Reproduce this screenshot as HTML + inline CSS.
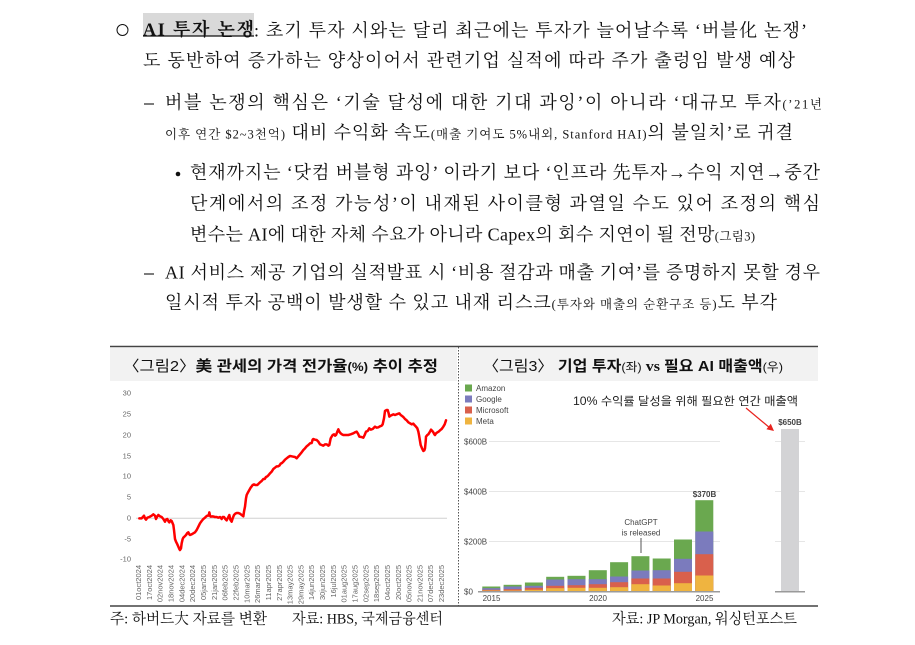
<!DOCTYPE html>
<html lang="ko">
<head>
<meta charset="utf-8">
<style>
  html,body{margin:0;padding:0;background:#fff;}
  svg{display:block;}
  .b{font-family:"Liberation Serif","Noto Serif CJK SC",serif;font-size:18px;fill:#111;}
  .s{font-size:12.5px;}
  .hd{font-family:"Liberation Sans","Noto Sans CJK KR",sans-serif;font-size:15px;fill:#111;}
  .ft{font-family:"Liberation Serif","Noto Serif CJK SC",serif;font-size:15px;fill:#111;}
  .ax{font-family:"Liberation Sans",sans-serif;font-size:7.5px;fill:#666;}
  .rc{font-family:"Liberation Sans",sans-serif;font-size:8px;fill:#444;}
</style>
</head>
<body>
<svg width="915" height="645" viewBox="0 0 915 645" xmlns="http://www.w3.org/2000/svg">
  <rect x="0" y="0" width="915" height="645" fill="#fff"/>

  <!-- ===== Body text ===== -->
  <circle cx="122.5" cy="30" r="5.5" fill="none" stroke="#111" stroke-width="1"/>
  <rect x="143" y="13" width="111" height="23" fill="#d9d9d9"/>
  <line x1="143" y1="36" x2="254" y2="36" stroke="#111" stroke-width="1.3"/>
  <text class="b" x="143" y="35.5" textLength="111" lengthAdjust="spacing" font-weight="bold">AI 투자 논쟁</text>
  <text class="b" x="254" y="36.5" textLength="553" lengthAdjust="spacing">: 초기 투자 시와는 달리 최근에는 투자가 늘어날수록 ‘버블化 논쟁’</text>
  <text class="b" x="143" y="66.5" textLength="652" lengthAdjust="spacing">도 동반하여 증가하는 양상이어서 관련기업 실적에 따라 주가 출렁임 발생 예상</text>

  <line x1="144" y1="104" x2="154" y2="104" stroke="#111" stroke-width="1.1"/>
  <text class="b" x="165" y="108.5" textLength="657" lengthAdjust="spacing">버블 논쟁의 핵심은 ‘기술 달성에 대한 기대 과잉’이 아니라 ‘대규모 투자<tspan class="s">(’21년</tspan></text>
  <text class="b" x="165" y="138.5" textLength="628" lengthAdjust="spacing"><tspan class="s">이후 연간 $2~3천억)</tspan> 대비 수익화 속도<tspan class="s">(매출 기여도 5%내외, Stanford HAI)</tspan>의 불일치’로 귀결</text>

  <circle cx="178" cy="174" r="2.3" fill="#111"/>
  <text class="b" x="190" y="178.5" textLength="630" lengthAdjust="spacing">현재까지는 ‘닷컴 버블형 과잉’ 이라기 보다 ‘인프라 先투자→수익 지연→중간</text>
  <text class="b" x="190" y="209.5" textLength="630" lengthAdjust="spacing">단계에서의 조정 가능성’이 내재된 사이클형 과열일 수도 있어 조정의 핵심</text>
  <text class="b" x="190" y="240.5" textLength="565" lengthAdjust="spacing">변수는 AI에 대한 자체 수요가 아니라 Capex의 회수 지연이 될 전망<tspan class="s">(그림3)</tspan></text>

  <line x1="144" y1="274" x2="154" y2="274" stroke="#111" stroke-width="1.1"/>
  <text class="b" x="165" y="278.5" textLength="655" lengthAdjust="spacing">AI 서비스 제공 기업의 실적발표 시 ‘비용 절감과 매출 기여’를 증명하지 못할 경우</text>
  <text class="b" x="165" y="308.5" textLength="612" lengthAdjust="spacing">일시적 투자 공백이 발생할 수 있고 내재 리스크<tspan class="s">(투자와 매출의 순환구조 등)</tspan>도 부각</text>

  <!-- ===== Chart frame ===== -->
  <rect x="110" y="348" width="347" height="33" fill="#f2f2f2"/>
  <rect x="460" y="348" width="358" height="33" fill="#f2f2f2"/>
  <line x1="110" y1="346.5" x2="818" y2="346.5" stroke="#444" stroke-width="1.5"/>
  <line x1="110" y1="606" x2="818" y2="606" stroke="#444" stroke-width="1.5"/>
  <line x1="458.5" y1="347" x2="458.5" y2="606" stroke="#555" stroke-width="1" stroke-dasharray="1.5,1.5"/>

  <!-- headers -->
  <text class="hd" x="123" y="371" textLength="315" lengthAdjust="spacingAndGlyphs"><tspan font-weight="normal">〈그림2〉</tspan><tspan font-weight="bold">美 관세의 가격 전가율</tspan><tspan font-weight="bold" font-size="12">(%)</tspan><tspan font-weight="bold"> 추이 추정</tspan></text>
  <text class="hd" x="483" y="371" textLength="300" lengthAdjust="spacingAndGlyphs"><tspan font-weight="normal">〈그림3〉 </tspan><tspan font-weight="bold">기업 투자</tspan><tspan font-size="12">(좌)</tspan><tspan font-weight="bold" font-family="Liberation Serif, serif"> vs </tspan><tspan font-weight="bold">필요 AI 매출액</tspan><tspan font-size="12">(우)</tspan></text>

  <!-- ===== Left chart ===== -->
  <g class="ax" text-anchor="end">
    <text x="131" y="395.5">30</text>
    <text x="131" y="416.5">25</text>
    <text x="131" y="437.5">20</text>
    <text x="131" y="458.5">15</text>
    <text x="131" y="478.5">10</text>
    <text x="131" y="499.5">5</text>
    <text x="131" y="520.5">0</text>
    <text x="131" y="541.5">-5</text>
    <text x="131" y="561.5">-10</text>
  </g>
  <line x1="136" y1="518.3" x2="447" y2="518.3" stroke="#d0d0d0" stroke-width="1"/>
  <g transform="translate(130,395) scale(0.333333)">
    <polyline fill="none" stroke="#ff0000" stroke-width="7.5" stroke-linejoin="round" stroke-linecap="round"
      points="28,370 35,370 42,362 45,370 48,374 52,368 58,366 65,362 70,358 75,362 78,372 82,364 85,360 90,364 95,366 100,372 105,380 108,374 112,372 116,380 118,382 122,376 125,378 130,390 132,405 135,432 138,440 142,448 145,455 148,462 150,465 153,460 155,445 158,432 160,428 164,424 168,420 172,414 175,412 178,418 180,420 185,418 190,415 195,412 200,405 205,395 210,385 215,378 220,372 225,368 228,365 232,362 236,362 238,352 240,362 242,365 248,364 255,366 260,366 265,368 270,366 275,372 278,366 282,366 286,372 290,376 294,368 298,360 301,374 305,380 308,370 312,360 316,356 320,354 325,354 330,356 335,360 340,364 342,350 345,335 348,310 350,300 354,292 358,285 362,278 365,274 368,270 372,268 376,270 382,270 386,266 390,262 395,258 400,252 404,252 408,246 412,244 416,240 420,235 425,230 430,222 435,218 440,214 444,214 448,212 452,206 456,204 460,200 465,194 470,190 475,186 480,183 485,184 490,185 495,186 500,190 505,184 510,178 515,172 520,165 525,160 530,154 535,150 540,145 545,144 548,134 550,132 555,134 560,135 565,140 570,148 575,150 580,152 585,148 590,148 595,152 598,150 602,130 605,125 608,120 612,118 615,122 618,120 622,110 625,103 628,110 632,115 636,118 640,120 648,120 655,120 662,118 670,115 675,112 680,110 684,116 688,125 694,126 700,128 704,120 708,110 713,108 718,100 722,104 728,102 732,98 735,95 740,98 745,97 750,94 755,92 758,88 762,70 765,48 770,45 773,45 776,55 778,65 782,62 786,60 790,58 795,60 800,58 805,56 808,55 812,60 815,62 820,66 825,72 830,76 835,82 840,85 845,88 850,86 855,92 858,95 862,100 865,110 867,120 870,138 872,150 876,160 880,168 883,166 885,160 887,140 888,125 892,120 895,118 900,110 903,104 907,108 910,112 913,118 915,120 918,115 922,112 926,110 930,106 935,102 940,95 944,88 948,76"/>
  </g>
  <g class="ax" text-anchor="end" font-size="7.5">
    <text transform="translate(141.1,565) rotate(-90)">01oct2024</text>
    <text transform="translate(151.9,565) rotate(-90)">17oct2024</text>
    <text transform="translate(162.7,565) rotate(-90)">02nov2024</text>
    <text transform="translate(173.6,565) rotate(-90)">18nov2024</text>
    <text transform="translate(184.4,565) rotate(-90)">04dec2024</text>
    <text transform="translate(195.2,565) rotate(-90)">20dec2024</text>
    <text transform="translate(206.0,565) rotate(-90)">05jan2025</text>
    <text transform="translate(216.8,565) rotate(-90)">21jan2025</text>
    <text transform="translate(227.7,565) rotate(-90)">06feb2025</text>
    <text transform="translate(238.5,565) rotate(-90)">22feb2025</text>
    <text transform="translate(249.3,565) rotate(-90)">10mar2025</text>
    <text transform="translate(260.1,565) rotate(-90)">26mar2025</text>
    <text transform="translate(270.9,565) rotate(-90)">11apr2025</text>
    <text transform="translate(281.8,565) rotate(-90)">27apr2025</text>
    <text transform="translate(292.6,565) rotate(-90)">13may2025</text>
    <text transform="translate(303.4,565) rotate(-90)">29may2025</text>
    <text transform="translate(314.2,565) rotate(-90)">14jun2025</text>
    <text transform="translate(325.0,565) rotate(-90)">30jun2025</text>
    <text transform="translate(335.9,565) rotate(-90)">16jul2025</text>
    <text transform="translate(346.7,565) rotate(-90)">01aug2025</text>
    <text transform="translate(357.5,565) rotate(-90)">17aug2025</text>
    <text transform="translate(368.3,565) rotate(-90)">02sep2025</text>
    <text transform="translate(379.1,565) rotate(-90)">18sep2025</text>
    <text transform="translate(390.0,565) rotate(-90)">04oct2025</text>
    <text transform="translate(400.8,565) rotate(-90)">20oct2025</text>
    <text transform="translate(411.6,565) rotate(-90)">05nov2025</text>
    <text transform="translate(422.4,565) rotate(-90)">21nov2025</text>
    <text transform="translate(433.2,565) rotate(-90)">07dec2025</text>
    <text transform="translate(444.1,565) rotate(-90)">23dec2025</text>
  </g>

  <!-- ===== Right chart ===== -->
  <rect x="465" y="384.5" width="7" height="7" fill="#6aa84f"/>
  <rect x="465" y="395.5" width="7" height="7" fill="#7b7bbd"/>
  <rect x="465" y="406.5" width="7" height="7" fill="#d9604c"/>
  <rect x="465" y="417.5" width="7" height="7" fill="#efb440"/>
  <g class="rc" fill="#333">
    <text x="476" y="391">Amazon</text>
    <text x="476" y="402">Google</text>
    <text x="476" y="413">Microsoft</text>
    <text x="476" y="424">Meta</text>
  </g>
  <g stroke="#e6e6e6" stroke-width="1">
    <line x1="489" y1="441.5" x2="720" y2="441.5"/>
    <line x1="489" y1="491.5" x2="720" y2="491.5"/>
    <line x1="489" y1="541.5" x2="720" y2="541.5"/>
    <line x1="775" y1="441.5" x2="805" y2="441.5"/>
    <line x1="775" y1="491.5" x2="805" y2="491.5"/>
    <line x1="775" y1="541.5" x2="805" y2="541.5"/>
  </g>
  <g class="rc" fill="#555">
    <text x="464" y="444.5">$600B</text>
    <text x="464" y="494.5">$400B</text>
    <text x="464" y="544.5">$200B</text>
    <text x="464" y="594.5">$0</text>
  </g>
  <g id="bars">
    <rect x="482.3" y="586.5" width="18" height="5" fill="#6aa84f"/>
    <rect x="482.3" y="588.2" width="18" height="3.3" fill="#7b7bbd"/>
    <rect x="482.3" y="589.8" width="18" height="1.7" fill="#d9604c"/>
    <rect x="482.3" y="590.5" width="18" height="1" fill="#efb440"/>
    <rect x="503.6" y="584.8" width="18" height="6.7" fill="#6aa84f"/>
    <rect x="503.6" y="586.5" width="18" height="5" fill="#7b7bbd"/>
    <rect x="503.6" y="589.2" width="18" height="2.3" fill="#d9604c"/>
    <rect x="503.6" y="590.5" width="18" height="1" fill="#efb440"/>
    <rect x="524.9" y="582.5" width="18" height="9" fill="#6aa84f"/>
    <rect x="524.9" y="585.8" width="18" height="5.7" fill="#7b7bbd"/>
    <rect x="524.9" y="587.8" width="18" height="3.7" fill="#d9604c"/>
    <rect x="524.9" y="589.8" width="18" height="1.7" fill="#efb440"/>
    <rect x="546.2" y="576.8" width="18" height="14.7" fill="#6aa84f"/>
    <rect x="546.2" y="579.5" width="18" height="12" fill="#7b7bbd"/>
    <rect x="546.2" y="585.8" width="18" height="5.7" fill="#d9604c"/>
    <rect x="546.2" y="588.2" width="18" height="3.3" fill="#efb440"/>
    <rect x="567.5" y="575.8" width="18" height="15.7" fill="#6aa84f"/>
    <rect x="567.5" y="579.2" width="18" height="12.3" fill="#7b7bbd"/>
    <rect x="567.5" y="585.2" width="18" height="6.3" fill="#d9604c"/>
    <rect x="567.5" y="587.8" width="18" height="3.7" fill="#efb440"/>
    <rect x="588.8" y="570.2" width="18" height="21.3" fill="#6aa84f"/>
    <rect x="588.8" y="579.2" width="18" height="12.3" fill="#7b7bbd"/>
    <rect x="588.8" y="584.2" width="18" height="7.3" fill="#d9604c"/>
    <rect x="588.8" y="587.8" width="18" height="3.7" fill="#efb440"/>
    <rect x="610.1" y="562.2" width="18" height="29.3" fill="#6aa84f"/>
    <rect x="610.1" y="576.5" width="18" height="15" fill="#7b7bbd"/>
    <rect x="610.1" y="582.2" width="18" height="9.3" fill="#d9604c"/>
    <rect x="610.1" y="587.2" width="18" height="4.3" fill="#efb440"/>
    <rect x="631.4" y="556.2" width="18" height="35.3" fill="#6aa84f"/>
    <rect x="631.4" y="570.5" width="18" height="21" fill="#7b7bbd"/>
    <rect x="631.4" y="578.5" width="18" height="13" fill="#d9604c"/>
    <rect x="631.4" y="584.2" width="18" height="7.3" fill="#efb440"/>
    <rect x="652.7" y="558.5" width="18" height="33" fill="#6aa84f"/>
    <rect x="652.7" y="570.2" width="18" height="21.3" fill="#7b7bbd"/>
    <rect x="652.7" y="578.5" width="18" height="13" fill="#d9604c"/>
    <rect x="652.7" y="585.5" width="18" height="6" fill="#efb440"/>
    <rect x="674.0" y="539.5" width="18" height="52" fill="#6aa84f"/>
    <rect x="674.0" y="558.8" width="18" height="32.7" fill="#7b7bbd"/>
    <rect x="674.0" y="571.8" width="18" height="19.7" fill="#d9604c"/>
    <rect x="674.0" y="583.2" width="18" height="8.3" fill="#efb440"/>
    <rect x="695.3" y="500.2" width="18" height="91.3" fill="#6aa84f"/>
    <rect x="695.3" y="531.5" width="18" height="60" fill="#7b7bbd"/>
    <rect x="695.3" y="554.2" width="18" height="37.3" fill="#d9604c"/>
    <rect x="695.3" y="575.5" width="18" height="16" fill="#efb440"/>
  </g>
  <rect x="781" y="429" width="18" height="162.5" fill="#d3d3d5"/>
  <line x1="478" y1="591.8" x2="720" y2="591.8" stroke="#9a9a9a" stroke-width="1.5"/>
  <line x1="775" y1="591.8" x2="805" y2="591.8" stroke="#9a9a9a" stroke-width="1.5"/>
  <text class="rc" x="704.5" y="497" text-anchor="middle" font-weight="bold" fill="#333" font-size="8.5">$370B</text>
  <text class="rc" x="790" y="425" text-anchor="middle" font-weight="bold" fill="#333">$650B</text>
  <text class="rc" x="641" y="525" text-anchor="middle" fill="#333">ChatGPT</text>
  <text class="rc" x="641" y="535.5" text-anchor="middle" fill="#333">is released</text>
  <line x1="641" y1="538" x2="641" y2="553" stroke="#555" stroke-width="1"/>
  <g class="rc" fill="#333" text-anchor="middle" font-size="8.5">
    <text x="491.5" y="601">2015</text>
    <text x="598" y="601">2020</text>
    <text x="704.5" y="601">2025</text>
  </g>
  <text x="573" y="405" textLength="225" lengthAdjust="spacingAndGlyphs" font-family="Liberation Sans, Noto Sans CJK KR, sans-serif" font-size="11.5" fill="#222">10% 수익률 달성을 위해 필요한 연간 매출액</text>
  <line x1="746" y1="408" x2="770" y2="428" stroke="#e8231f" stroke-width="1.2"/>
  <polygon points="774,431 766.4,429.2 770.8,423.8" fill="#e8231f"/>

  <!-- ===== Footer ===== -->
  <text class="ft" x="110" y="623.5" textLength="157" lengthAdjust="spacingAndGlyphs">주: 하버드大 자료를 변환</text>
  <text class="ft" x="292" y="623.5" textLength="151" lengthAdjust="spacingAndGlyphs">자료: HBS, 국제금융센터</text>
  <text class="ft" x="612" y="623.5" textLength="185" lengthAdjust="spacingAndGlyphs">자료: JP Morgan, 워싱턴포스트</text>
</svg>
</body>
</html>
